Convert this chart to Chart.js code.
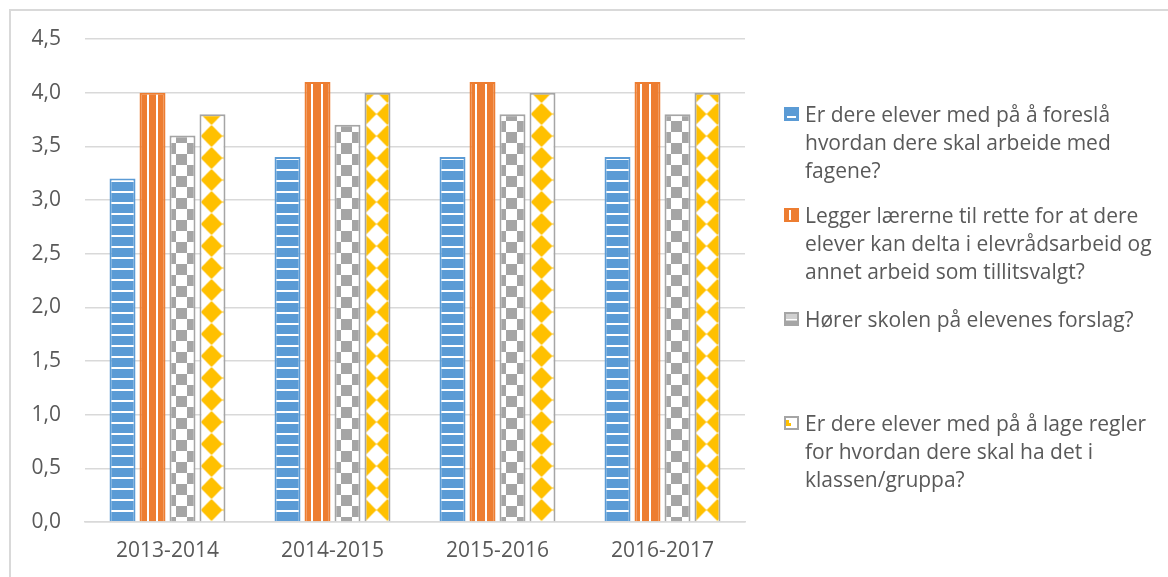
<!DOCTYPE html>
<html>
<head>
<meta charset="utf-8">
<script src="https://cdn.jsdelivr.net/npm/chart.js@4/dist/chart.umd.min.js"></script>
<style>
  html, body { margin: 0; padding: 0; background: #ffffff; }
  #wrap { position: relative; width: 1168px; height: 577px; overflow: hidden; }
  #frame { position: absolute; left: 9px; top: 9px; width: 1300px; height: 700px;
           border-left: 2px solid #d9d9d9; border-top: 2px solid #d9d9d9; box-sizing: border-box; }
  #c { position: absolute; left: 0; top: 0; }
  #legend { position: absolute; left: 0; top: 0; font-family: "Open Sans", sans-serif;
            font-size: 21px; line-height: 28px; color: #595959; }
  .item { position: absolute; left: 805px; white-space: nowrap; }
  .sw { position: absolute; left: 784px; }
</style>
</head>
<body>
<div id="wrap">
  <div id="frame"></div>
  <canvas id="c" width="1168" height="577"></canvas>
  <div id="legend"></div>
</div>
<script>
// ---- data ----
const categories = ['2013-2014', '2014-2015', '2015-2016', '2016-2017'];
const seriesNames = [
  'Er dere elever med på å foreslå\nhvordan dere skal arbeide med\nfagene?',
  'Legger lærerne til rette for at dere\nelever kan delta i elevrådsarbeid og\nannet arbeid som tillitsvalgt?',
  'Hører skolen på elevenes forslag?',
  'Er dere elever med på å lage regler\nfor hvordan dere skal ha det i\nklassen/gruppa?'
];
const valuesForeslaa = [3.2, 3.4, 3.4, 3.4];
const valuesTillitsvalgt = [4.0, 4.1, 4.1, 4.1];
const valuesForslag = [3.6, 3.7, 3.8, 3.8];
const valuesRegler = [3.8, 4.0, 4.0, 4.0];
const yMin = 0, yMax = 4.5, yStep = 0.5;

// ---- styles ----
const BLUE = '#5b9bd5', ORANGE = '#ed7d31', GRAY = '#a5a5a5', YELLOW = '#ffc000';
const TEXT = '#595959', GRID = '#d9d9d9';
const FONT = '"Open Sans", sans-serif';

const canvas = document.getElementById('c');
const ctx = canvas.getContext('2d');

function tile(w, h, draw, dx, dy) {
  const t = document.createElement('canvas');
  t.width = w; t.height = h;
  draw(t.getContext('2d'), w, h);
  const p = ctx.createPattern(t, 'repeat');
  if ((dx || dy) && p.setTransform && window.DOMMatrix) {
    p.setTransform(new DOMMatrix().translate(dx || 0, dy || 0));
  }
  return p;
}
const patBlue = tile(11, 11, (g, w, h) => {
  g.fillStyle = BLUE; g.fillRect(0, 0, w, h);
  g.fillStyle = '#ffffff'; g.fillRect(0, 4, w, 2);
});
const patOrange = tile(29, 4, (g, w, h) => {
  g.fillStyle = ORANGE; g.fillRect(0, 0, w, h);
  g.fillStyle = '#ffffff';
  g.fillRect(2, 0, 2, h); g.fillRect(11, 0, 2, h); g.fillRect(21, 0, 2, h);
});
const patGray = tile(22, 22, (g, w, h) => {
  g.fillStyle = '#ffffff'; g.fillRect(0, 0, w, h);
  g.fillStyle = GRAY; g.fillRect(0, 0, 11, 11); g.fillRect(11, 11, 11, 11);
});
const patYellow = tile(22, 22, (g, w, h) => {
  g.fillStyle = '#ffffff'; g.fillRect(0, 0, w, h);
  g.fillStyle = YELLOW;
  g.beginPath(); g.moveTo(11, 0); g.lineTo(22, 11); g.lineTo(11, 22); g.lineTo(0, 11); g.closePath(); g.fill();
}, 2.5, 15);

const datasets = [
  { label: seriesNames[0], data: valuesForeslaa, backgroundColor: patBlue, borderColor: BLUE },
  { label: seriesNames[1], data: valuesTillitsvalgt, backgroundColor: patOrange, borderColor: ORANGE },
  { label: seriesNames[2], data: valuesForslag, backgroundColor: patGray, borderColor: GRAY },
  { label: seriesNames[3], data: valuesRegler, backgroundColor: patYellow, borderColor: GRAY }
].map(d => Object.assign(d, { borderWidth: 2, categoryPercentage: 0.727, barPercentage: 0.867 }));

const chart = new Chart(canvas, {
  type: 'bar',
  data: { labels: categories, datasets },
  options: {
    responsive: false,
    devicePixelRatio: 1,
    animation: false,
    layout: { padding: { left: 20, right: 423, top: 39, bottom: 0 } },
    plugins: { legend: { display: false }, tooltip: { enabled: false } },
    scales: {
      x: {
        grid: { display: false, drawTicks: false },
        border: { display: true, color: GRID, width: 1.5 },
        ticks: { color: TEXT, font: { family: FONT, size: 21 }, padding: 16 },
        afterFit: s => { s.height = 55; }
      },
      y: {
        min: yMin, max: yMax,
        grid: { color: GRID, lineWidth: 1.5, drawTicks: false },
        border: { display: false },
        ticks: {
          stepSize: yStep, color: TEXT, font: { family: FONT, size: 21 }, padding: 24,
          callback: v => v.toFixed(1).replace('.', ',')
        },
        afterFit: s => { s.width = 65; }
      }
    }
  }
});

// ---- legend (HTML, generated from the datasets) ----
const legendTops = [100, 201, 305, 409];
const legend = document.getElementById('legend');
function swatch(i) {
  const c = document.createElement('canvas');
  c.width = 15; c.height = 14; c.className = 'sw';
  const g = c.getContext('2d');
  if (i === 0) {
    g.fillStyle = BLUE; g.fillRect(0, 0, 15, 14);
    g.fillStyle = '#fff'; g.fillRect(3, 9, 9, 2);
  } else if (i === 1) {
    g.fillStyle = ORANGE; g.fillRect(0, 0, 15, 14);
    g.fillStyle = '#fff'; g.fillRect(5, 2, 2, 10);
  } else if (i === 2) {
    g.fillStyle = GRAY; g.fillRect(0, 0, 15, 14);
    g.fillStyle = '#d0d0d0'; g.fillRect(2, 2, 11, 5);
    g.fillStyle = '#fff'; g.fillRect(2, 7, 11, 1.5);
  } else {
    g.fillStyle = GRAY; g.fillRect(0, 0, 15, 14);
    g.fillStyle = '#fff'; g.fillRect(2, 2, 11, 10);
    g.fillStyle = YELLOW; g.fillRect(2, 4, 3, 3); g.fillRect(2, 7, 5, 3);
  }
  return c;
}
chart.data.datasets.forEach((ds, i) => {
  const sw = swatch(i);
  sw.style.top = (legendTops[i] + 7) + 'px';
  legend.appendChild(sw);
  const t = document.createElement('div');
  t.className = 'item';
  t.style.top = legendTops[i] + 'px';
  ds.label.split('\n').forEach((line, k) => {
    if (k) t.appendChild(document.createElement('br'));
    t.appendChild(document.createTextNode(line));
  });
  legend.appendChild(t);
});
</script>
</body>
</html>
